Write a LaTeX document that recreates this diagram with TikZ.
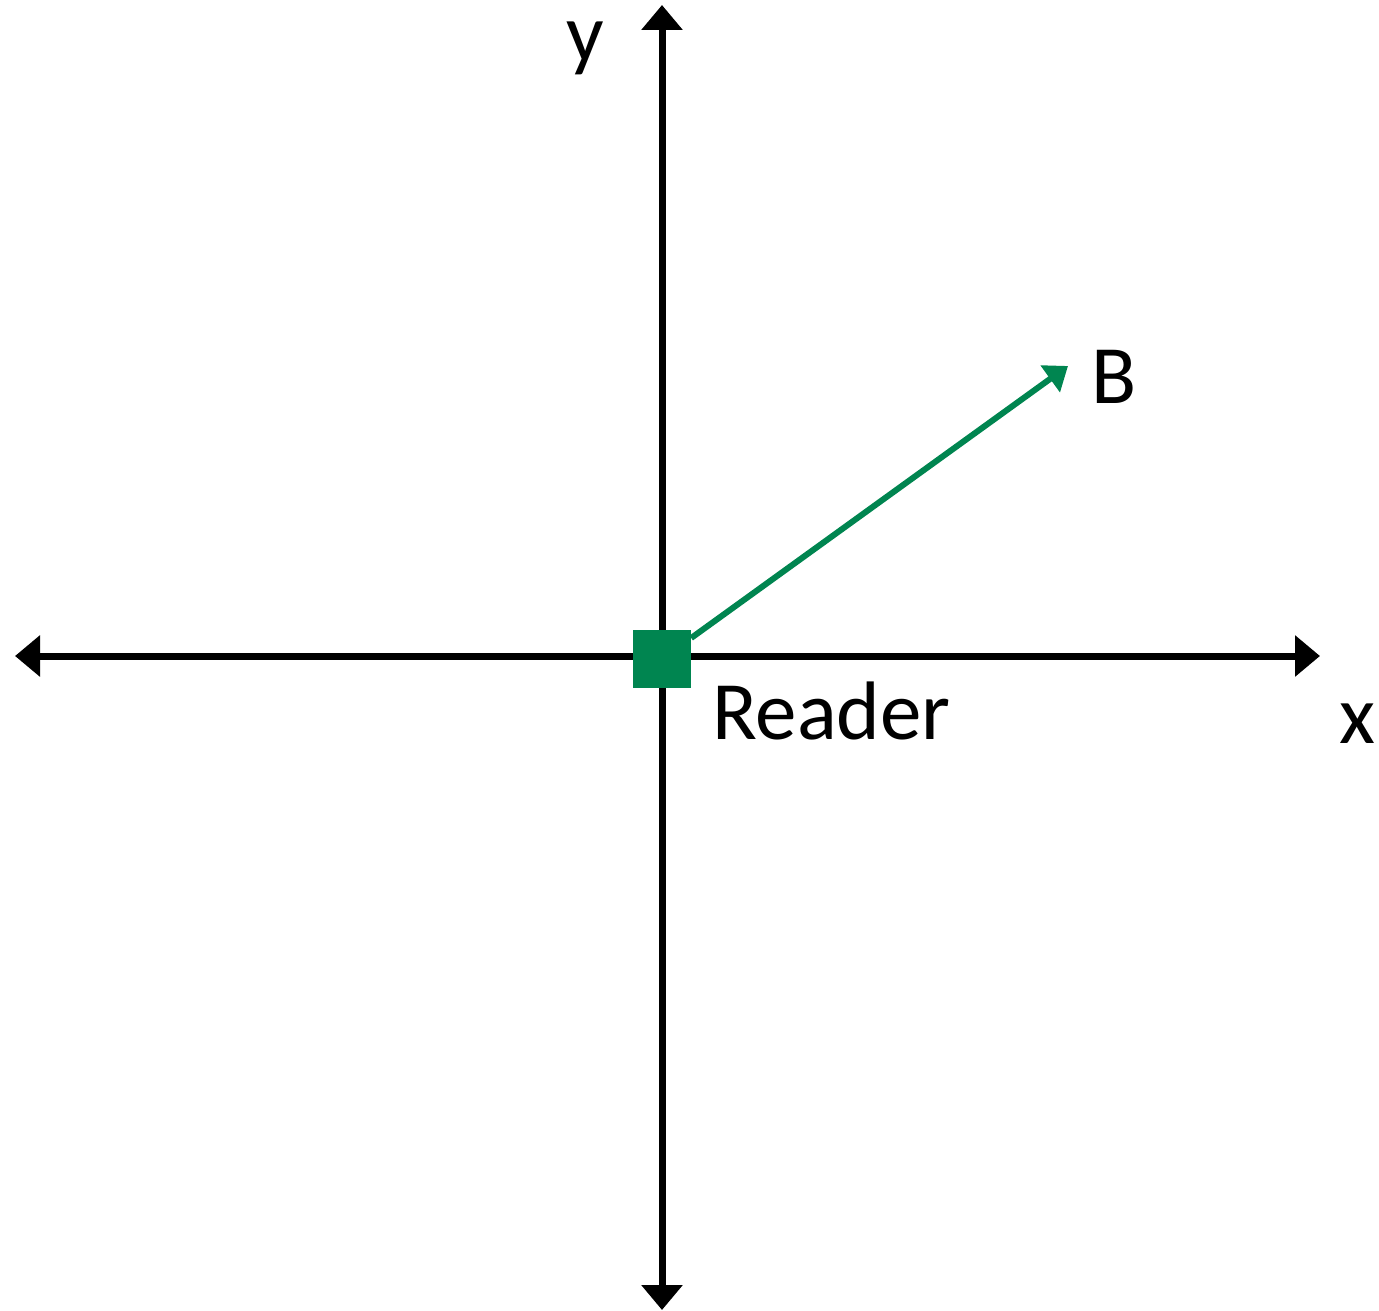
\documentclass[tikz,border=0pt]{standalone}
\usepackage{fontspec}
\setmainfont{Carlito}
\usetikzlibrary{arrows.meta}
\definecolor{rgreen}{RGB}{0,133,80}
\tikzset{
  axis/.style={line width=7pt, {Triangle[length=25pt,width=40pt]}-{Triangle[length=25pt,width=40pt]}},
  vec/.style={line width=6pt, rgreen, -{Triangle[length=22pt,width=32pt]}},
  lbl/.style={inner sep=0pt, font=\fontsize{83}{90}\selectfont},
  reader/.style={fill=rgreen, inner sep=0pt, minimum size=58pt, draw=none}
}
\begin{document}
\begin{tikzpicture}[x=1pt,y=-1pt]
\useasboundingbox (0,0) rectangle (1379,1311);
\coordinate (xl) at (15,656);
\coordinate (xr) at (1320,656);
\coordinate (yt) at (662,5);
\coordinate (yb) at (662,1310);
\coordinate (Bt) at (1068,366);
\draw[axis] (xl) -- (xr);
\draw[axis] (yt) -- (yb);
\node[reader] (R) at (662,659) {};
\draw[vec] (R) -- (Bt);
\node[lbl, anchor=base west] (rl) at (712,739) {Reader};
\node[lbl, anchor=base west] (bl) at (1091,403) {B};
\node[lbl, anchor=base] (xlab) at (1357,743) {x};
\node[lbl, anchor=base] (ylab) at (585,62) {y};
\end{tikzpicture}
\end{document}
